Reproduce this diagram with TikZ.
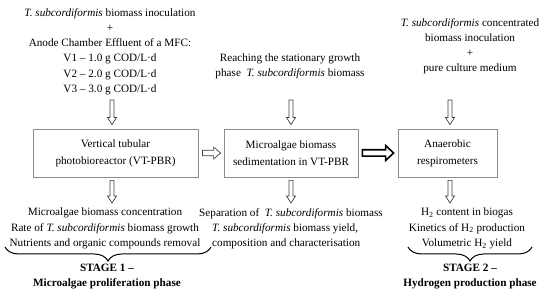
\documentclass[tikz,border=0pt]{standalone}
\usepackage{fontspec}
\setmainfont{Liberation Serif}
\usetikzlibrary{calc,decorations.pathreplacing}
\tikzset{
  txt/.style={font=\fontsize{11.2}{15.3}\selectfont, align=center, inner sep=0pt},
  box/.style={draw=black!45, line width=0.8pt, font=\fontsize{11.2}{17}\selectfont, align=center, inner sep=0pt},
  thinarrow/.style={draw=black!75, line width=0.7pt, fill=white, line join=miter},
  thickarrow/.style={draw=black, line width=1.6pt, fill=white, line join=miter},
  stagetxt/.style={font=\bfseries\fontsize{11.2}{15.3}\selectfont, align=center, inner sep=0pt},
  brc/.style={decorate, decoration={brace, mirror, amplitude=14pt}, line width=1pt}
}
% vertical hollow arrow from #1 down to #2
\newcommand\varrow[2]{%
  \draw[thinarrow] let \p1=(#1), \p2=(#2) in
    ({\x1-2pt},{\y1}) -- ({\x1-2pt},{\y2+7pt}) -- ({\x1-4.5pt},{\y2+7pt}) --
    ({\x1},{\y2}) -- ({\x1+4.5pt},{\y2+7pt}) -- ({\x1+2pt},{\y2+7pt}) --
    ({\x1+2pt},{\y1}) -- cycle;}
% horizontal hollow arrow from #2 to #3, style #1, half shaft #4, half head #5, head length #6
\newcommand\harrow[6]{%
  \draw[#1] let \p1=(#2), \p2=(#3) in
    ({\x1},{\y1-#4}) -- ({\x2-#6},{\y1-#4}) -- ({\x2-#6},{\y1-#5}) --
    ({\x2},{\y1}) -- ({\x2-#6},{\y1+#5}) -- ({\x2-#6},{\y1+#4}) --
    ({\x1},{\y1+#4}) -- cycle;}
\begin{document}
\begin{tikzpicture}[x=1pt,y=-1pt]
\useasboundingbox (0,0) rectangle (550,304);

% top texts
\node[txt,anchor=north] (t1) at (110,8)
  {\textit{T. subcordiformis} biomass inoculation\\+\\Anode Chamber Effluent of a MFC:\\V1 – 1.0 g COD/L·d\\V2 – 2.0 g COD/L·d\\V3 – 3.0 g COD/L·d};
\node[txt,anchor=north,font=\fontsize{11.2}{14.5}\selectfont] (t2) at (290,54)
  {Reaching the stationary growth\\phase\ \ \textit{T. subcordiformis} biomass};
\node[txt,anchor=north] (t3) at (470,18)
  {\textit{T. subcordiformis} concentrated\\biomass inoculation\\+\\pure culture medium};

% boxes
\node[box,minimum width=165pt,minimum height=48pt] (b1) at (115.5,153)
  {Vertical tubular\\photobioreactor (VT-PBR)};
\node[box,minimum width=134pt,minimum height=48pt] (b2) at (291,153)
  {Microalgae biomass\\sedimentation in VT-PBR};
\node[box,minimum width=99pt,minimum height=48pt] (b3) at (447.5,153)
  {Anaerobic\\respirometers};

% bottom texts
\node[txt,anchor=north] (r1) at (105,208)
  {Microalgae biomass concentration\\Rate of \textit{T. subcordiformis} biomass growth\\Nutrients and organic compounds removal};
\node[txt,anchor=north] (r2a) at (291,208)
  {Separation of\ \ \textit{T. subcordiformis} biomass};
\node[txt,anchor=north west,align=left] (r2b) at (212,223.3)
  {\textit{T. subcordiformis} biomass yield,\\composition and characterisation};
\node[txt,anchor=north] (r3) at (467,208)
  {H\textsubscript{2} content in biogas\\Kinetics of H\textsubscript{2} production\\Volumetric H\textsubscript{2} yield};

% stage labels
\node[stagetxt,anchor=north] (s1) at (107,264) {STAGE 1 –\\Microalgae proliferation phase};
\node[stagetxt,anchor=north] (s2) at (470,264) {STAGE 2 –\\Hydrogen production phase};

% braces
\coordinate (br1l) at (5,247);
\coordinate (br1r) at (211,247);
\coordinate (br2l) at (408,247);
\coordinate (br2r) at (532,247);
\draw[brc] (br1l) -- (br1r);
\draw[brc] (br2l) -- (br2r);

% arrow end points
\coordinate (a1s) at (112,100);
\coordinate (a2s) at (291,100);
\coordinate (a3s) at (450,100);
\coordinate (a1e) at ($(b1.north -| a1s)+(0,-4)$);
\coordinate (a2e) at ($(b2.north -| a2s)+(0,-4)$);
\coordinate (a3e) at ($(b3.north -| a3s)+(0,-4)$);
\coordinate (c1s) at ($(b1.south -| a1s)+(0,3)$);
\coordinate (c2s) at ($(b2.south -| a2s)+(0,3)$);
\coordinate (c3s) at ($(b3.south -| a3s)+(0,3)$);
\coordinate (c1e) at ($(r1.north -| a1s)+(0,-5)$);
\coordinate (c2e) at ($(r2a.north -| a2s)+(0,-5)$);
\coordinate (c3e) at ($(r3.north -| a3s)+(0,-5)$);

\varrow{a1s}{a1e}
\varrow{a2s}{a2e}
\varrow{a3s}{a3e}
\varrow{c1s}{c1e}
\varrow{c2s}{c2e}
\varrow{c3s}{c3e}

\coordinate (h1s) at ($(b1.east)+(4,0)$);
\coordinate (h1e) at ($(b2.west)+(-3,0)$);
\coordinate (h2s) at ($(b2.east)+(4,0)$);
\coordinate (h2e) at ($(b3.west)+(-4,0)$);
\harrow{thinarrow}{h1s}{h1e}{2.8pt}{6pt}{7pt}
\harrow{thickarrow}{h2s}{h2e}{3.2pt}{7.5pt}{8pt}
\end{tikzpicture}
\end{document}
